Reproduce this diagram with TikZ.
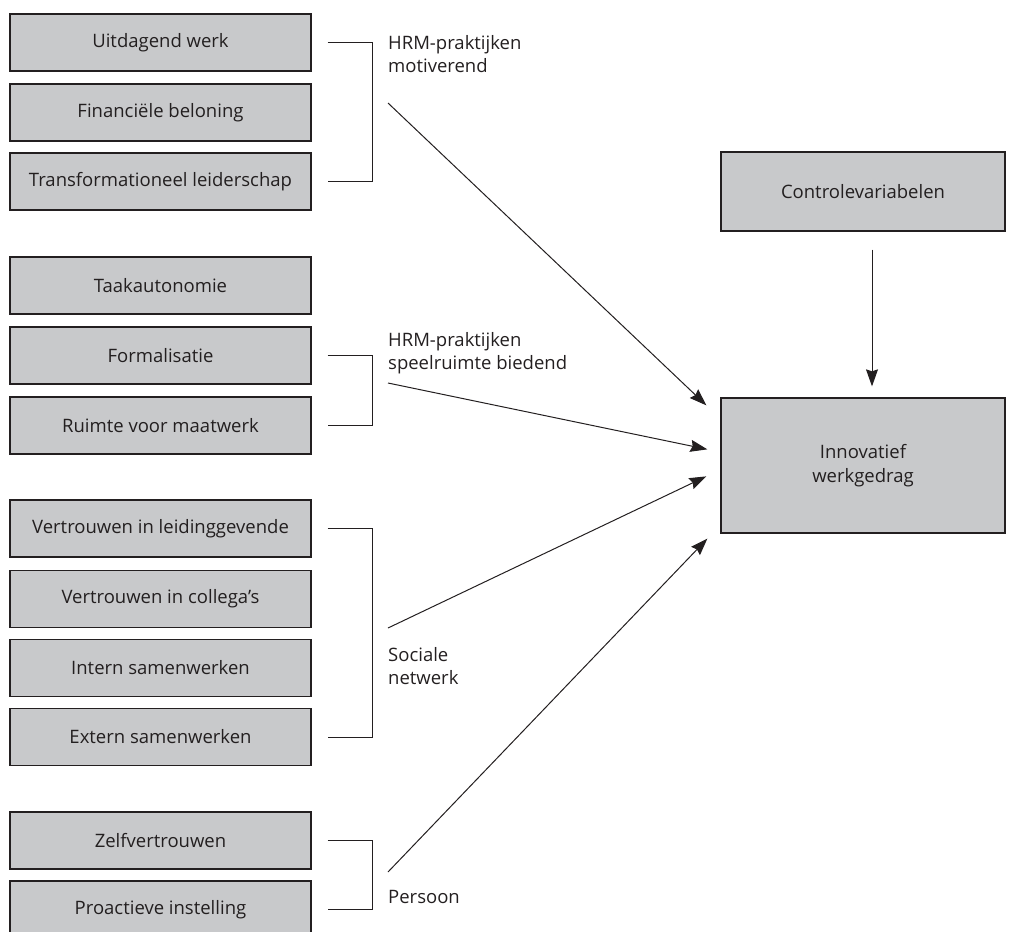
\documentclass[tikz,border=0pt]{standalone}
\usepackage{fontspec}
\setmainfont{Open Sans}
\usetikzlibrary{arrows.meta}
\definecolor{vakgrijs}{RGB}{200,201,203}
\definecolor{inkt}{RGB}{35,31,32}
\tikzset{
	vak/.style={draw=inkt, line width=1.3pt, fill=vakgrijs, minimum width=301pt, minimum height=57pt, inner sep=0pt, text=inkt, font=\fontsize{18.5}{22}\selectfont},
	groep/.style={anchor=west, align=left, inner sep=0pt, text=inkt, font=\fontsize{18.5}{23.5}\selectfont},
	haak/.style={draw=inkt, line width=1pt},
	pijl/.style={draw=inkt, line width=1pt, -{Stealth[length=17pt,width=12pt,inset=2pt]}}
}
\begin{document}
\begin{tikzpicture}[x=1pt,y=-1pt]
		\useasboundingbox (0,0) rectangle (1010,932);
	
		% linker kolom
		\node[vak] (uitdagend) at (160.5,42.5) {Uitdagend werk};
		\node[vak] (financieel) at (160.5,112.5) {Financiële beloning};
		\node[vak] (leiderschap) at (160.5,181.5) {Transformationeel leiderschap};
		
		\node[vak] (autonomie) at (160.5,285.5) {Taakautonomie};
		\node[vak] (formalisatie) at (160.5,355.5) {Formalisatie};
		\node[vak] (maatwerk) at (160.5,425.5) {Ruimte voor maatwerk};
		
		\node[vak] (leiding) at (160.5,528.5) {Vertrouwen in leidinggevende};
		\node[vak] (collegas) at (160.5,599) {Vertrouwen in collega’s};
		\node[vak] (intern) at (160.5,668) {Intern samenwerken};
		\node[vak] (extern) at (160.5,737) {Extern samenwerken};
		
		\node[vak] (zelf) at (160.5,840.5) {Zelfvertrouwen};
		\node[vak] (proactief) at (160.5,909.5) {Proactieve instelling};
		
		% rechter kolom
		\node[vak, minimum width=284pt, minimum height=79pt] (controle) at (863,191.5) {Controlevariabelen};
		\node[vak, minimum width=284pt, minimum height=135pt, align=center, font=\fontsize{18.5}{23.5}\selectfont] (innovatief) at (863,465.5) {Innovatief\\werkgedrag};
		
		% haken
		\draw[haak] ([xshift=16pt]uitdagend.east) -- ++(45,0) |- ([xshift=16pt]leiderschap.east);
		\draw[haak] ([xshift=16pt]formalisatie.east) -- ++(45,0) |- ([xshift=16pt]maatwerk.east);
		\draw[haak] ([xshift=16pt]leiding.east) -- ++(45,0) |- ([xshift=16pt]extern.east);
		\draw[haak] ([xshift=16pt]zelf.east) -- ++(45,0) |- ([xshift=16pt]proactief.east);
		
		\node[groep] (motiverend) at (388,54) {HRM-praktijken\\motiverend};
		\node[groep] (speelruimte) at (388,353) {HRM-praktijken\\speelruimte biedend};
		\node[groep] (sociaal) at (388,666) {Sociale\\netwerk};
		\node[groep] (persoon) at (388,897) {Persoon};
		
		% pijlen
		\coordinate (van1) at (388,103);
		\coordinate (van2) at (388,383);
		\coordinate (van3) at (388,628);
		\coordinate (van4) at (388,872);
		
		\draw[pijl] (van1) -- ([xshift=-14pt,yshift=-8pt]innovatief.north west);
		\draw[pijl] (van2) -- ([xshift=-13pt,yshift=-52pt]innovatief.north west);
		\draw[pijl] (van3) -- ([xshift=-14pt,yshift=-79pt]innovatief.north west);
		\draw[pijl] (van4) -- ([xshift=-13pt,yshift=-5pt]innovatief.south west);
		
		\draw[pijl] ([xshift=9pt,yshift=-18pt]controle.south) -- ([xshift=9pt,yshift=11pt]innovatief.north);
	\end{tikzpicture}
\end{document}
